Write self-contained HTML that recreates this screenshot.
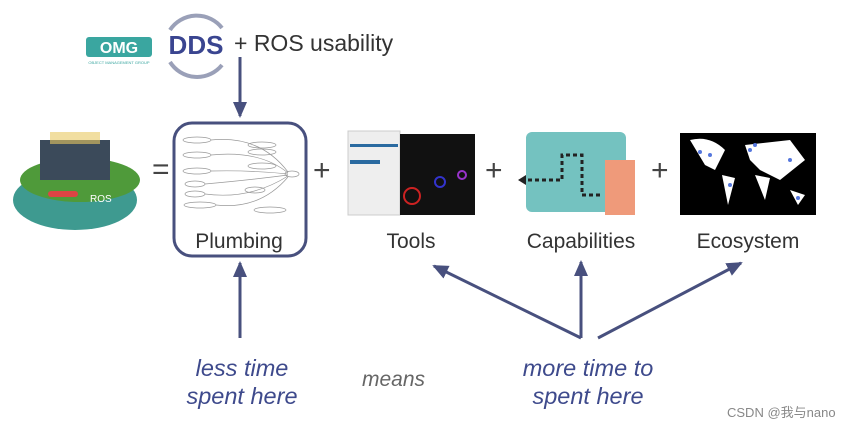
<!DOCTYPE html>
<html><head><meta charset="utf-8"><style>
body{margin:0;width:855px;height:427px;background:#fff;overflow:hidden;position:relative;font-family:"Liberation Sans","Noto Sans CJK SC",sans-serif}
.t{position:absolute;white-space:nowrap}
.lab{font-size:21px;color:#333;transform:translateX(-50%)}
.it{font-style:italic;color:#3e4a8c;font-size:23.5px;text-align:center;transform:translateX(-50%);line-height:28px}
.plus{font-size:30px;color:#444}
</style></head><body>
<svg width="855" height="427" style="position:absolute;left:0;top:0">
<defs>
<marker id="b" markerWidth="16" markerHeight="14" refX="14" refY="7" orient="auto" markerUnits="userSpaceOnUse"><path d="M0,0 L16,7 L0,14z" fill="#48507e"/></marker></defs>
<rect x="86" y="37" width="66" height="20" fill="#3aa6a0" rx="3"/>
<text x="119" y="53" font-size="16" font-weight="bold" fill="#fff" text-anchor="middle" font-family="Liberation Sans">OMG</text>
<text x="119" y="64" font-size="4" fill="#3aa6a0" text-anchor="middle">OBJECT MANAGEMENT GROUP</text>
<path d="M170,30 A32,32 0 0 1 222,28" stroke="#9aa0b8" stroke-width="4" fill="none"/>
<path d="M170,62 A32,32 0 0 0 222,65" stroke="#9aa0b8" stroke-width="4" fill="none"/>
<text x="196" y="54" font-size="26" font-weight="bold" fill="#3a4590" text-anchor="middle">DDS</text>
<ellipse cx="75" cy="200" rx="62" ry="30" fill="#3e9a90"/>
<ellipse cx="80" cy="180" rx="60" ry="22" fill="#4f9a3a"/>
<rect x="40" y="140" width="70" height="40" fill="#3b4a5a"/>
<rect x="50" y="132" width="50" height="12" fill="#e8c860" opacity=".6"/>
<rect x="48" y="191" width="30" height="6" fill="#d44" rx="3"/>
<text x="90" y="202" font-size="10" fill="#fff">ROS</text>
<rect x="174" y="123" width="132" height="133" rx="18" fill="#fff" stroke="#48507e" stroke-width="3"/>
<g stroke="#999" fill="none" stroke-width="0.7">
<ellipse cx="197" cy="140" rx="14" ry="3"/><ellipse cx="197" cy="155" rx="14" ry="3"/><ellipse cx="197" cy="171" rx="14" ry="3"/><ellipse cx="195" cy="184" rx="10" ry="3"/><ellipse cx="195" cy="194" rx="10" ry="3"/><ellipse cx="200" cy="205" rx="16" ry="3"/>
<ellipse cx="262" cy="145" rx="14" ry="3"/><ellipse cx="262" cy="152" rx="14" ry="3"/><ellipse cx="262" cy="166" rx="14" ry="3"/><ellipse cx="255" cy="190" rx="10" ry="3"/><ellipse cx="270" cy="210" rx="16" ry="3"/><ellipse cx="292" cy="174" rx="7" ry="3"/>
<path d="M211,140 Q260,135 288,172 M211,155 Q260,150 288,173 M211,171 Q250,170 288,174 M205,184 Q250,180 288,175 M205,194 Q250,200 288,176 M216,205 Q260,210 288,177"/>
</g>
<rect x="348" y="131" width="52" height="84" fill="#eee" stroke="#ccc"/>
<rect x="350" y="144" width="48" height="3" fill="#2a6aa0"/><rect x="350" y="160" width="30" height="4" fill="#2a6aa0"/>
<rect x="400" y="134" width="75" height="81" fill="#111"/>
<circle cx="412" cy="196" r="8" fill="none" stroke="#c22" stroke-width="2"/><circle cx="440" cy="182" r="5" fill="none" stroke="#33c" stroke-width="2"/><circle cx="462" cy="175" r="4" fill="none" stroke="#93c" stroke-width="2"/>
<rect x="526" y="132" width="100" height="80" rx="6" fill="#74c2c0"/>
<path d="M600,195 H582 V155 H562 V180 H520" stroke="#222" stroke-width="3" stroke-dasharray="4,3" fill="none"/>
<path d="M518,180 l8,-5 v10z" fill="#222"/>
<rect x="605" y="160" width="30" height="55" fill="#ef9a7a"/>
<rect x="680" y="133" width="136" height="82" fill="#000"/>
<path d="M690,140 Q710,135 725,150 L715,170 L705,165 Z M722,175 L735,178 L728,205 Z M745,145 L790,140 L805,160 L780,180 L760,170 L750,160 Z M755,175 L770,178 L765,200 Z M790,190 L805,195 L798,205 Z" fill="#fff"/>
<g fill="#5577dd"><circle cx="700" cy="152" r="2"/><circle cx="710" cy="155" r="2"/><circle cx="750" cy="150" r="2"/><circle cx="755" cy="145" r="2"/><circle cx="790" cy="160" r="2"/><circle cx="798" cy="198" r="2"/><circle cx="730" cy="185" r="2"/></g>
<g stroke="#48507e" stroke-width="3" fill="none">
<line x1="240" y1="57" x2="240" y2="116" marker-end="url(#b)"/>
<line x1="240" y1="338" x2="240" y2="263" marker-end="url(#b)"/>
<line x1="581" y1="338" x2="434" y2="266" marker-end="url(#b)"/>
<line x1="581" y1="338" x2="581" y2="262" marker-end="url(#b)"/>
<line x1="598" y1="338" x2="741" y2="263" marker-end="url(#b)"/>
</g>
</svg>
<div class="t" style="left:234px;top:30px;font-size:23px;color:#333">+ ROS usability</div>
<div class="t plus" style="left:152px;top:153px">=</div>
<div class="t plus" style="left:313px;top:154px">+</div>
<div class="t plus" style="left:485px;top:154px">+</div>
<div class="t plus" style="left:651px;top:154px">+</div>
<div class="t lab" style="left:239px;top:230px">Plumbing</div>
<div class="t lab" style="left:411px;top:230px">Tools</div>
<div class="t lab" style="left:581px;top:230px">Capabilities</div>
<div class="t lab" style="left:748px;top:230px">Ecosystem</div>
<div class="t it" style="left:242px;top:354px">less time<br>spent here</div>
<div class="t" style="left:362px;top:368px;font-size:21px;font-style:italic;color:#666">means</div>
<div class="t it" style="left:588px;top:354px">more time to<br>spent here</div>
<div class="t" style="left:727px;top:402px;font-size:13px;color:#888">CSDN @我与nano</div>
</body></html>
